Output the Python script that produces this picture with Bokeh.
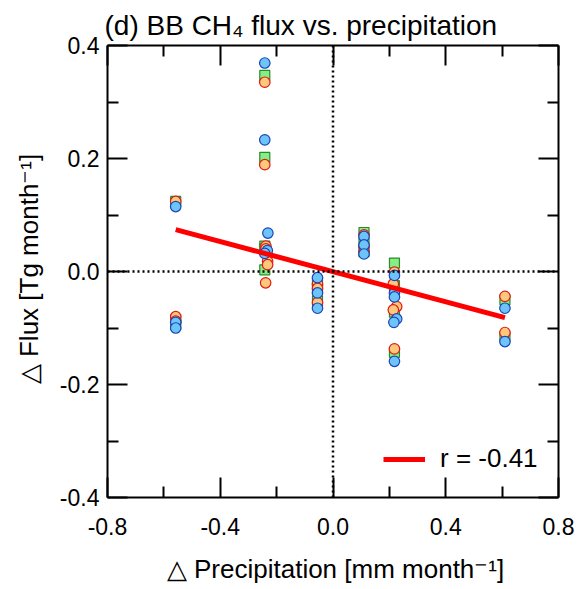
from bokeh.plotting import figure
from bokeh.models import (Range1d, LinearAxis, FixedTicker, PrintfTickFormatter,
                          Span, Legend, LegendItem)
from bokeh.embed import file_html
from bokeh.resources import INLINE

# ---- data ----
green_x = [-0.558, -0.558, -0.558, -0.242, -0.242, -0.242, -0.242, -0.242,
           -0.055, -0.055, -0.055, 0.11, 0.11, 0.11,
           0.218, 0.218, 0.218, 0.218, 0.61, 0.61]
green_y = [0.124, -0.085, -0.094, 0.347, 0.202, 0.045, 0.040, 0.003,
           -0.018, -0.030, -0.052, 0.069, 0.050, 0.035,
           0.015, -0.025, -0.072, -0.143, -0.050, -0.115]

orange_x = [-0.558, -0.558, -0.558, -0.242, -0.242, -0.238, -0.238, -0.232, -0.232, -0.239,
            -0.055, -0.055, -0.055, 0.11, 0.11, 0.11,
            0.218, 0.214, 0.226, 0.214, 0.218, 0.61, 0.61]
orange_y = [0.124, -0.080, -0.088, 0.335, 0.189, 0.045, 0.040, 0.018, 0.012, -0.020,
            -0.022, -0.030, -0.055, 0.065, 0.045, 0.035,
            -0.001, -0.022, -0.062, -0.068, -0.137, -0.044, -0.108]

blue_x = [-0.558, -0.558, -0.558, -0.242, -0.242, -0.231, -0.233, -0.242,
          -0.055, -0.055, -0.055, 0.11, 0.11, 0.11,
          0.218, 0.218, 0.218, 0.226, 0.216, 0.218, 0.61, 0.61]
blue_y = [0.115, -0.090, -0.100, 0.369, 0.233, 0.068, 0.037, 0.032,
          -0.011, -0.038, -0.065, 0.062, 0.047, 0.031,
          -0.007, -0.038, -0.045, -0.084, -0.090, -0.159, -0.065, -0.124]

fit_slope = -0.1335
fit_intercept = -0.0003
r_label = "r = -0.41"

title_text = "(d) BB CH\u2084 flux vs. precipitation"
x_label = "\u25b3 Precipitation [mm month\u207b\u00b9]"
y_label = "\u25b3 Flux [Tg month\u207b\u00b9]"

x_ticks = [-0.8, -0.4, 0.0, 0.4, 0.8]
x_minor = [-0.6, -0.2, 0.2, 0.6]
y_ticks = [-0.4, -0.2, 0.0, 0.2, 0.4]
y_minor = [-0.3, -0.1, 0.1, 0.3]

FONT = "Liberation Sans"

p = figure(width=576, height=587, x_range=Range1d(-0.8, 0.8), y_range=Range1d(-0.4, 0.4),
           output_backend="svg", toolbar_location=None,
           x_axis_location=None, y_axis_location=None,
           min_border_left=107, min_border_right=18, min_border_top=45, min_border_bottom=90)
p.xgrid.grid_line_color = None
p.ygrid.grid_line_color = None
p.outline_line_color = None
p.background_fill_color = "white"
p.border_fill_color = "white"

p.title.text = title_text
p.title.text_font = FONT
p.title.text_font_size = "28px"
p.title.text_font_style = "normal"
p.title.text_color = "black"
p.title.align = "left"
p.title.offset = -3
p.title.standoff = 10


def make_axis(ticks, minor, labels, standoff=8):
    ax = LinearAxis(ticker=FixedTicker(ticks=ticks, minor_ticks=minor),
                    axis_line_width=2, axis_line_color="black",
                    major_tick_line_width=2, minor_tick_line_width=2,
                    major_tick_line_color="black", minor_tick_line_color="black",
                    major_tick_in=20, major_tick_out=0,
                    minor_tick_in=11, minor_tick_out=0)
    if labels:
        ax.formatter = PrintfTickFormatter(format="%.1f")
        ax.major_label_text_font = FONT
        ax.major_label_text_font_size = "23px"
        ax.major_label_text_color = "black"
        ax.major_label_standoff = standoff
        ax.axis_label_text_font = FONT
        ax.axis_label_text_font_size = "26px"
        ax.axis_label_text_font_style = "normal"
        ax.axis_label_text_color = "black"
    else:
        ax.major_label_text_font_size = "0px"
        ax.major_label_text_color = None
        ax.major_label_standoff = 0
    return ax


xb = make_axis(x_ticks, x_minor, True, 20)
xb.axis_label = x_label
xb.axis_label_standoff = 16
yl = make_axis(y_ticks, y_minor, True, 8)
yl.axis_label = y_label
yl.axis_label_standoff = 13
p.add_layout(xb, "below")
p.add_layout(yl, "left")
p.add_layout(make_axis(x_ticks, x_minor, False), "above")
p.add_layout(make_axis(y_ticks, y_minor, False), "right")

# zero lines
p.add_layout(Span(location=0, dimension="width", line_color="black", line_width=2.5, line_dash="2 3"))
p.add_layout(Span(location=0, dimension="height", line_color="black", line_width=2.5, line_dash="2 3"))

# markers
p.scatter(green_x, green_y, marker="square", size=10, fill_color="#86ee86",
          line_color="#2a8a2a", line_width=1.2)
p.scatter(orange_x, orange_y, marker="circle", size=10.5, fill_color="#fdc87c",
          line_color="#e01a14", line_width=1.2)
p.scatter(blue_x, blue_y, marker="circle", size=10.5, fill_color="#6cc4f8",
          line_color="#1b45b8", line_width=1.2)

# regression line
all_x = green_x + orange_x + blue_x
fit_x = [min(all_x), max(all_x)]
fit_y = [fit_slope * v + fit_intercept for v in fit_x]
line_r = p.line(fit_x, fit_y, line_color="#ff0000", line_width=5)

legend = Legend(items=[LegendItem(label=r_label, renderers=[line_r])],
                location=(276, 23), padding=0, margin=0, spacing=0,
                glyph_width=42, glyph_height=30, label_height=30, label_standoff=15,
                border_line_color=None, background_fill_alpha=0,
                label_text_font=FONT, label_text_font_size="26px", label_text_color="black")
p.add_layout(legend)

open("out.html", "w").write(file_html(p, INLINE))
